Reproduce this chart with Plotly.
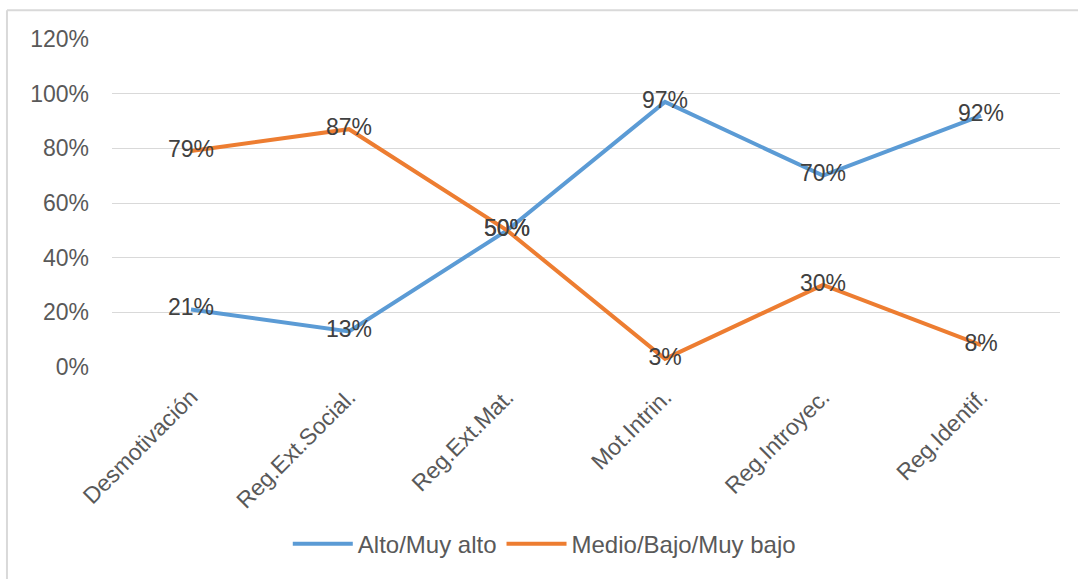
import plotly.graph_objects as go

categories = ["Desmotivación", "Reg.Ext.Social.", "Reg.Ext.Mat.", "Mot.Intrin.", "Reg.Introyec.", "Reg.Identif."]
alto = [0.21, 0.13, 0.50, 0.97, 0.70, 0.92]
medio = [0.79, 0.87, 0.50, 0.03, 0.30, 0.08]
tick_vals = [0, 0.2, 0.4, 0.6, 0.8, 1.0, 1.2]
tick_text = ["0%", "20%", "40%", "60%", "80%", "100%", "120%"]

FONT = "Liberation Sans"

fig = go.Figure()
for name, vals, color in [("Alto/Muy alto", alto, "#5B9BD5"), ("Medio/Bajo/Muy bajo", medio, "#ED7D31")]:
    fig.add_trace(go.Scatter(
        x=categories, y=vals, name=name, mode="lines+text",
        line=dict(color=color, width=4),
        text=[f"{round(v*100)}%" for v in vals],
        textposition="middle center",
        textfont=dict(family=FONT, size=23, color="#404040"),
        hoverinfo="skip",
    ))

fig.update_layout(
    width=1078, height=579, autosize=False,
    paper_bgcolor="white", plot_bgcolor="white",
    margin=dict(l=112, r=18, t=39, b=209),
    showlegend=True,
    legend=dict(orientation="h", x=0.456, xanchor="center", y=-0.54, yanchor="middle",
                font=dict(family=FONT, size=24, color="#595959"), itemwidth=60),
    xaxis=dict(type="category", range=[-0.5, 5.5], showgrid=False, showline=False,
               tickangle=-45, tickfont=dict(family=FONT, size=23, color="#595959"),
               ticks="", ticklabelstandoff=11, zeroline=False),
    yaxis=dict(range=[0, 1.2], tickvals=tick_vals, ticktext=tick_text,
               showgrid=True, gridcolor="#D9D9D9", gridwidth=1, zeroline=False,
               tickfont=dict(family=FONT, size=23, color="#595959"),
               ticks="", ticklabelstandoff=22),
    shapes=[
        dict(type="line", xref="paper", yref="paper", x0=-0.1108, x1=-0.1108, y0=1.0876, y1=-0.7,
             line=dict(color="#D9D9D9", width=2)),
        dict(type="line", xref="paper", yref="paper", x0=-0.1108, x1=1.05, y0=1.0876, y1=1.0876,
             line=dict(color="#D9D9D9", width=2)),
    ],
)

fig.write_html("out.html", config={"displayModeBar": False},
               post_script="document.body.style.margin='0';document.body.style.overflow='hidden';")
